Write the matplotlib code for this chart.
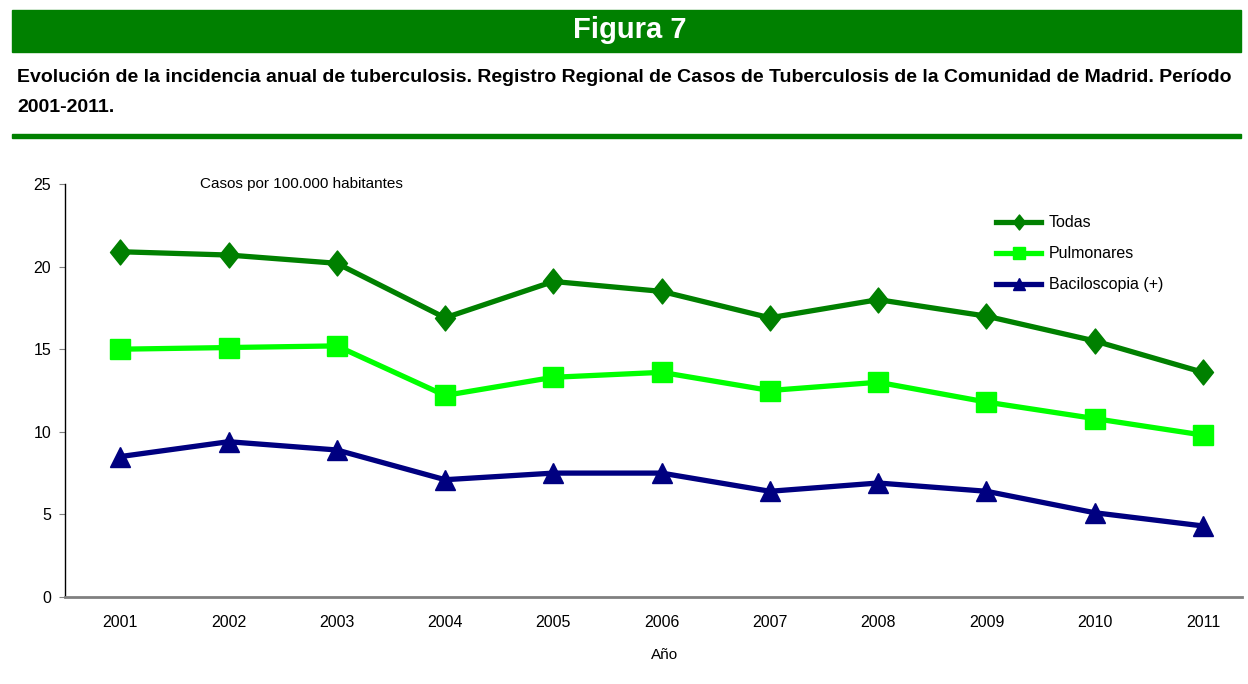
import matplotlib
matplotlib.use("Agg")
from matplotlib import pyplot as plt
from matplotlib.path import Path
from matplotlib.patches import Rectangle

plt.rcParams['font.family'] = ['Liberation Sans', 'DejaVu Sans']

# Data (casos por 100.000 habitantes)
years = [2001, 2002, 2003, 2004, 2005, 2006, 2007, 2008, 2009, 2010, 2011]
todas = [20.9, 20.7, 20.2, 16.9, 19.1, 18.5, 16.9, 18.0, 17.0, 15.5, 13.6]
pulmonares = [15.0, 15.1, 15.2, 12.2, 13.3, 13.6, 12.5, 13.0, 11.8, 10.8, 9.8]
baciloscopia = [8.5, 9.4, 8.9, 7.1, 7.5, 7.5, 6.4, 6.9, 6.4, 5.1, 4.3]
yticks = [0, 5, 10, 15, 20, 25]

fig = plt.figure(figsize=(12.48, 6.84), dpi=100)

# Header: green banner, subtitle, green rule
fig.patches.append(Rectangle((12/1248, 1-52/684), 1229/1248, 42/684,
                             transform=fig.transFigure, color='#008000', zorder=0))
fig.text(630/1248, 1-38/684, 'Figura 7', color='white', fontsize=21,
         fontweight='bold', ha='center', va='baseline')
fig.text(17/1248, 1-82/684,
         'Evolución de la incidencia anual de tuberculosis. Registro Regional de Casos de '
         'Tuberculosis de la Comunidad de Madrid. Período',
         fontsize=14, fontweight='bold', ha='left', va='baseline')
fig.text(17/1248, 1-112/684, '2001-2011.', fontsize=14, fontweight='bold',
         ha='left', va='baseline')
fig.patches.append(Rectangle((12/1248, 1-138/684), 1229/1248, 4.5/684,
                             transform=fig.transFigure, color='#008000', zorder=0))

ax = fig.add_axes([65/1248, 1-597/684, (1242-65)/1248, (597-184)/684])

diamond = Path([(0, 1), (0.8, 0), (0, -1), (-0.8, 0), (0, 1)],
               [Path.MOVETO, Path.LINETO, Path.LINETO, Path.LINETO, Path.CLOSEPOLY])

ax.plot(years, todas, color='#008000', lw=3.8, marker=diamond, markersize=18,
        label='Todas', clip_on=False)
ax.plot(years, pulmonares, color='#00FF00', lw=3.8, marker='s', markersize=14.5,
        label='Pulmonares', clip_on=False)
ax.plot(years, baciloscopia, color='#000080', lw=3.8, marker='^', markersize=14.5,
        label='Baciloscopia (+)', clip_on=False)

ax.set_xlim(2000.49, 2011.36)
ax.set_ylim(0, 25)
ax.set_yticks(yticks)
ax.set_xticks(years)
ax.tick_params(axis='x', length=0, pad=13, labelsize=11.5)
ax.tick_params(axis='y', length=4, color='#808080', labelsize=11.5, pad=6)

for s in ['top', 'right']:
    ax.spines[s].set_visible(False)
ax.spines['left'].set_color('black')
ax.spines['left'].set_linewidth(1.0)
ax.spines['bottom'].set_color('#808080')
ax.spines['bottom'].set_linewidth(2.0)

fig.text(200/1248, 1-184/684, 'Casos por 100.000 habitantes',
         fontsize=11, ha='left', va='center')
fig.text(665/1248, 1-655/684, 'Año', fontsize=11, ha='center', va='center')

ax.legend(loc='upper left', bbox_to_anchor=((982-65)/1177, 1-(201-184)/413),
          frameon=False, fontsize=11.5, markerscale=0.6, handlelength=2.8,
          handletextpad=0.5, labelspacing=1.0)

fig.savefig('out.png', dpi=100)
